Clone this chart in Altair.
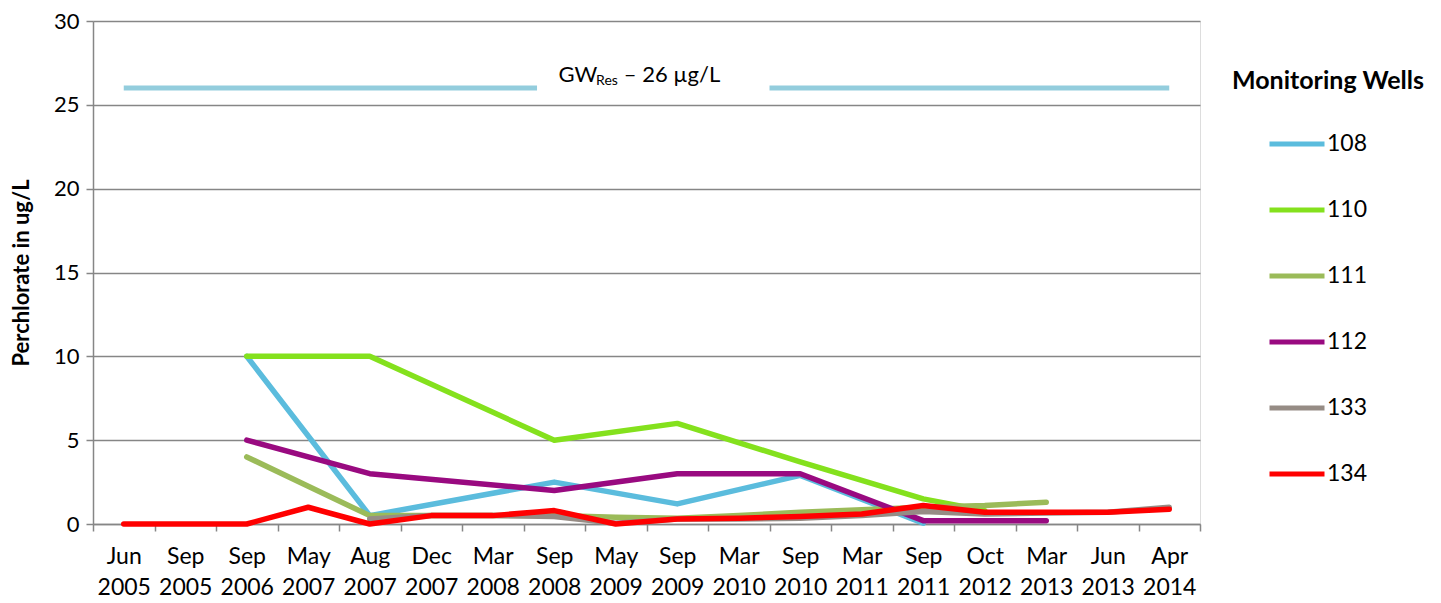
import altair as alt
import pandas as pd

categories = ["Jun 2005", "Sep 2005", "Sep 2006", "May 2007", "Aug 2007", "Dec 2007",
              "Mar 2008", "Sep 2008", "May 2009", "Sep 2009", "Mar 2010", "Sep 2010",
              "Mar 2011", "Sep 2011", "Oct 2012", "Mar 2013", "Jun 2013", "Apr 2014"]

wells = ["108", "110", "111", "112", "133", "134"]
colors = ["#5BBCDD", "#84E11D", "#9BBB59", "#990A80", "#968C85", "#FF0000"]

w108 = [None, None, 10, None, 0.5, None, None, 2.5, None, 1.2, None, 2.9, None, 0.05, None, None, None, None]
w110 = [None, None, 10, None, 10, None, None, 5, None, 6, None, 3.7, None, 1.5, 0.8, None, None, None]
w111 = [None, None, 4, None, 0.5, 0.5, 0.5, 0.5, 0.4, 0.35, 0.5, 0.7, 0.85, 1.0, 1.1, 1.3, None, None]
w112 = [None, None, 5, None, 3, None, None, 2, None, 3, None, 3, None, 0.2, 0.2, 0.2, None, None]
w133 = [None, None, None, None, 0.3, 0.5, 0.5, 0.45, 0.05, 0.3, 0.3, 0.35, 0.5, 0.75, 0.6, 0.65, 0.7, 1.0]
w134 = [0, 0, 0, 1, 0, 0.5, 0.5, 0.8, 0, 0.3, 0.35, 0.45, 0.6, 1.1, 0.7, 0.7, 0.7, 0.88]

series = [w108, w110, w111, w112, w133, w134]

ref_value = 26
ref_segments_start = [0, 10.5]
ref_segments_end = [6.72, 17]

ann_x = [7.07, 7.68, 8.13]
ann_y = [26.8, 26.4, 26.8]
ann_text = ["GW", "Res", "\u2013 26 \u00b5g/L"]
ann_size = [22, 14, 22]

rows = []
for w, vals in zip(wells, series):
    for i, v in enumerate(vals):
        if v is not None:
            rows.append({"idx": i, "value": v, "well": w, "date": categories[i]})
df = pd.DataFrame(rows)

ref_df = pd.DataFrame({"x0": ref_segments_start, "x1": ref_segments_end,
                       "y": [ref_value] * len(ref_segments_start)})
ann_df = pd.DataFrame({"x": ann_x, "y": ann_y, "t": ann_text, "s": ann_size})

FONT = "Lato"
GRAY = "#868686"

# nested ternary: category text for integer positions, '' elsewhere
inner = "''"
for i in range(len(categories) - 1, -1, -1):
    inner = "(datum.value == %d ? '%s' : %s)" % (i, categories[i], inner)
label_expr = "split(%s, ' ')" % inner

tick_vals = [k / 2 - 0.5 for k in range(0, 2 * len(categories) + 1)]

x_scale = alt.Scale(domain=[-0.5, len(categories) - 0.5], nice=False, zero=False)
y_scale = alt.Scale(domain=[0, 30], nice=False)

x_axis = alt.Axis(
    values=tick_vals,
    labelExpr=label_expr,
    labelOverlap=False, labelBound=False, labelFlush=False,
    labelFontSize=23, labelFont=FONT, labelColor="black", labelLineHeight=31,
    labelPadding=14, labelAngle=0,
    tickSize=7, tickColor=GRAY, tickWidth=1.5,
    tickOpacity={"condition": {"test": "datum.value % 1 != 0", "value": 1}, "value": 0},
    domainColor=GRAY, domainWidth=1.5, grid=False, title=None,
)
y_axis = alt.Axis(
    values=[0, 5, 10, 15, 20, 25, 30],
    labelFontSize=22, labelFont=FONT, labelColor="black", labelPadding=7,
    tickSize=7, tickColor=GRAY, tickWidth=1.5,
    domainColor=GRAY, domainWidth=1.5,
    grid=True, gridColor=GRAY, gridWidth=1.5,
    title="Perchlorate in ug/L", titleFont=FONT, titleFontSize=22, titleFontWeight="bold",
    titleColor="black", titlePadding=20,
)

lines = alt.Chart(df).mark_line(strokeWidth=5.5, strokeCap="round", strokeJoin="round").encode(
    x=alt.X("idx:Q", scale=x_scale, axis=x_axis),
    y=alt.Y("value:Q", scale=y_scale, axis=y_axis),
    color=alt.Color("well:N", scale=alt.Scale(domain=wells, range=colors),
                    legend=alt.Legend(
                        title="Monitoring Wells", orient="none", legendX=1139, legendY=48,
                        titleFont=FONT, titleFontSize=25, titleFontWeight="bold", titleColor="black",
                        titlePadding=20, titleLimit=400,
                        labelFont=FONT, labelFontSize=23, labelColor="black", labelOffset=0,
                        symbolType="stroke", symbolSize=3025, symbolStrokeWidth=5,
                        symbolOffset=35, rowPadding=24, padding=0)),
    order=alt.Order("idx:Q"),
)

ref = alt.Chart(ref_df).mark_rule(strokeWidth=5, color="#93CDDD").encode(
    x=alt.X("x0:Q", scale=x_scale, axis=x_axis), x2="x1:Q",
    y=alt.Y("y:Q", scale=y_scale, axis=y_axis)
)

ann = alt.Chart(ann_df).mark_text(align="left", baseline="middle", font=FONT, color="black").encode(
    x=alt.X("x:Q", scale=x_scale, axis=x_axis), y=alt.Y("y:Q", scale=y_scale, axis=y_axis),
    text="t:N",
    size=alt.Size("s:Q", scale=None, legend=None),
)

chart = alt.layer(ref, ann, lines).properties(
    width=1107, height=503,
    padding={"left": 2, "top": 2, "right": 5, "bottom": 2},
).configure_view(stroke=None).configure(font=FONT)

chart.save("out.html", embed_options={"renderer": "svg", "actions": False})
